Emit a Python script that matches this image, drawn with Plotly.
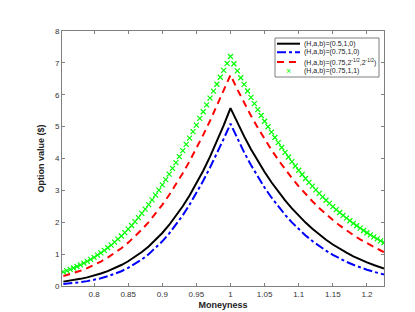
import plotly.graph_objects as go

# x grids
x_lines = [0.755, 0.76, 0.77, 0.78, 0.79, 0.80, 0.81, 0.82, 0.83, 0.84, 0.85, 0.86, 0.87, 0.88, 0.89,
           0.90, 0.91, 0.92, 0.93, 0.94, 0.95, 0.96, 0.97, 0.98, 0.99, 1.00,
           1.01, 1.02, 1.03, 1.04, 1.05, 1.06, 1.07, 1.08, 1.09, 1.10, 1.11, 1.12, 1.13, 1.14, 1.15,
           1.16, 1.17, 1.18, 1.19, 1.20, 1.21, 1.22, 1.225]

black_vals = [0.137, 0.151, 0.184, 0.224, 0.271, 0.326, 0.391, 0.467, 0.556, 0.658, 0.776, 0.912, 1.066, 1.242, 1.441,
              1.664, 1.914, 2.192, 2.500, 2.840, 3.211, 3.617, 4.057, 4.530, 5.038, 5.58,
              5.121, 4.693, 4.293, 3.921, 3.576, 3.255, 2.960, 2.686, 2.433, 2.202, 1.989, 1.793, 1.614, 1.451, 1.302,
              1.167, 1.044, 0.932, 0.831, 0.740, 0.658, 0.584, 0.550]

blue_vals = [0.063, 0.072, 0.093, 0.120, 0.153, 0.193, 0.243, 0.304, 0.377, 0.464, 0.568, 0.689, 0.832, 0.997, 1.186,
             1.401, 1.645, 1.916, 2.218, 2.550, 2.911, 3.300, 3.716, 4.155, 4.615, 5.09,
             4.624, 4.193, 3.794, 3.426, 3.087, 2.777, 2.492, 2.233, 1.996, 1.781, 1.586, 1.410, 1.250, 1.107, 0.977,
             0.862, 0.758, 0.666, 0.583, 0.511, 0.445, 0.388, 0.362]

red_vals = [0.313, 0.342, 0.405, 0.477, 0.561, 0.657, 0.766, 0.890, 1.029, 1.186, 1.360, 1.554, 1.770, 2.006, 2.265,
            2.547, 2.854, 3.184, 3.538, 3.916, 4.318, 4.741, 5.184, 5.647, 6.126, 6.62,
            6.169, 5.744, 5.342, 4.964, 4.607, 4.272, 3.957, 3.662, 3.386, 3.127, 2.885, 2.659, 2.449, 2.253, 2.070,
            1.901, 1.743, 1.597, 1.462, 1.337, 1.221, 1.114, 1.064]

x_green = [round(0.755 + 0.005 * i, 3) for i in range(95)]
green_vals = [0.442, 0.480, 0.522, 0.566, 0.613, 0.663, 0.717, 0.774, 0.835, 0.899,
              0.968, 1.041, 1.118, 1.199, 1.284, 1.375, 1.470, 1.570, 1.675, 1.784,
              1.899, 2.020, 2.145, 2.276, 2.412, 2.553, 2.700, 2.852, 3.009, 3.171,
              3.339, 3.511, 3.688, 3.870, 4.057, 4.247, 4.442, 4.641, 4.843, 5.049,
              5.257, 5.468, 5.681, 5.896, 6.113, 6.330, 6.548, 6.766, 6.983, 7.2,
              6.972, 6.751, 6.534, 6.324, 6.119, 5.918, 5.723, 5.534, 5.350, 5.170,
              4.995, 4.825, 4.660, 4.500, 4.344, 4.193, 4.046, 3.903, 3.764, 3.630,
              3.499, 3.373, 3.250, 3.131, 3.015, 2.904, 2.796, 2.691, 2.590, 2.491,
              2.396, 2.305, 2.216, 2.130, 2.047, 1.966, 1.889, 1.814, 1.742, 1.672,
              1.605, 1.540, 1.477, 1.417, 1.359]

names = ["(H,a,b)=(0.5,1,0)", "(H,a,b)=(0.75,1,0)",
         "(H,a,b)=(0.75,2<sup>-1/2</sup>,2<sup>-1/2</sup>)", "(H,a,b)=(0.75,1,1)"]

x_ticks = [0.8, 0.85, 0.9, 0.95, 1.0, 1.05, 1.1, 1.15, 1.2]
x_ticktext = ["0.8", "0.85", "0.9", "0.95", "1", "1.05", "1.1", "1.15", "1.2"]
y_ticks = [0, 1, 2, 3, 4, 5, 6, 7, 8]

FONT = "Liberation Sans, Arial"
GREEN = "#00ff00"

fig = go.Figure()
fig.add_trace(go.Scatter(x=x_lines, y=black_vals, mode="lines", name=names[0],
                         line=dict(color="black", width=2)))
fig.add_trace(go.Scatter(x=x_lines, y=blue_vals, mode="lines", name=names[1],
                         line=dict(color="#0000ff", width=2, dash="dashdot")))
fig.add_trace(go.Scatter(x=x_lines, y=red_vals, mode="lines", name=names[2],
                         line=dict(color="#ff0000", width=2, dash="7px,5px")))
fig.add_trace(go.Scatter(x=x_green, y=green_vals, mode="markers", name=names[3],
                         marker=dict(symbol="x-thin", size=5, color=GREEN,
                                     line=dict(color=GREEN, width=1.2))))

# ---- compact MATLAB-style legend (paper coordinates) ----
box = dict(x0=0.6615, x1=0.9845, y0=0.8196, y1=0.9725)
rows_y = [0.9502, 0.9165, 0.8784, 0.8420]
sample_x0, sample_x1, text_x = 0.6677, 0.7391, 0.7453
shapes = [dict(type="rect", xref="paper", yref="paper", **box,
               line=dict(color="#7f7f7f", width=1), fillcolor="white", layer="above")]
styles = [dict(color="black", width=2), dict(color="#0000ff", width=2, dash="dashdot"),
          dict(color="#ff0000", width=2, dash="7px,5px")]
for yy, st in zip(rows_y[:3], styles):
    shapes.append(dict(type="line", xref="paper", yref="paper", x0=sample_x0, x1=sample_x1,
                       y0=yy, y1=yy, line=st, layer="above"))
annotations = []
for yy, nm in zip(rows_y, names):
    annotations.append(dict(xref="paper", yref="paper", x=text_x, y=yy, text=nm, showarrow=False,
                            xanchor="left", yanchor="middle",
                            font=dict(family=FONT, size=7, color="#222222")))
annotations.append(dict(xref="paper", yref="paper", x=(sample_x0 + sample_x1) / 2, y=rows_y[3],
                        text="×", showarrow=False, xanchor="center", yanchor="middle",
                        font=dict(family=FONT, size=9, color=GREEN)))

axis_common = dict(showline=True, linecolor="#7f7f7f", linewidth=1, mirror="ticks",
                   ticks="inside", ticklen=3, tickcolor="#7f7f7f", showgrid=False,
                   zeroline=False, tickfont=dict(family=FONT, size=8, color="#333333"))

fig.update_layout(
    width=415, height=312,
    margin=dict(l=54, r=39, t=23, b=34),
    paper_bgcolor="white", plot_bgcolor="white",
    showlegend=False,
    shapes=shapes,
    annotations=annotations,
    xaxis=dict(range=[0.753, 1.225], tickvals=x_ticks, ticktext=x_ticktext,
               title=dict(text="<b>Moneyness</b>", standoff=4,
                          font=dict(family=FONT, size=9, color="#222222")),
               **axis_common),
    yaxis=dict(range=[0, 8], tickvals=y_ticks,
               title=dict(text="<b>Option value ($)</b>", standoff=8,
                          font=dict(family=FONT, size=9, color="#222222")),
               **axis_common),
)

fig.write_html("out.html")
